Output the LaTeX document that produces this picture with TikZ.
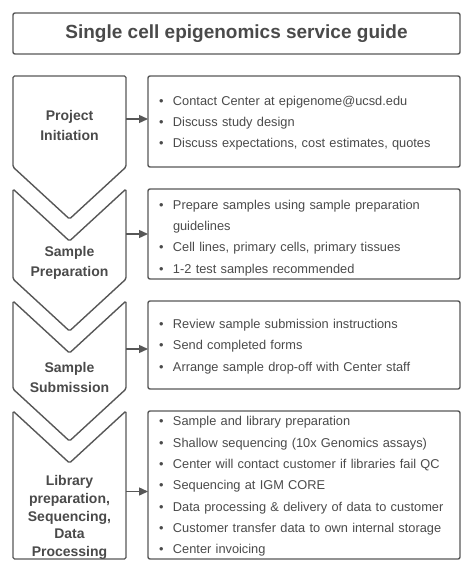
\documentclass[tikz,border=0pt]{standalone}
\usepackage{fontspec}
\setmainfont{Liberation Sans}
\usetikzlibrary{arrows.meta,positioning,calc}

\definecolor{linegray}{HTML}{575757}
\definecolor{textgray}{HTML}{4A4A4A}

\newcommand{\bitem}[1]{\par\hangindent=14pt\hangafter=1\noindent\makebox[14pt][l]{\textbullet}#1}
\newcommand{\bstart}{\vspace*{-9pt}}

\begin{document}
\begin{tikzpicture}[
    node distance=22pt,
    titlebox/.style={rectangle, rounded corners=2pt, draw=linegray, line width=1.4pt, outer sep=0pt,
                     text=textgray, minimum width=447pt, minimum height=41pt,
                     font=\fontsize{19}{23}\selectfont\bfseries},
    infobox/.style={rectangle, rounded corners=2pt, draw=linegray, line width=1.4pt, outer sep=0pt,
                    text=textgray, align=left, text width=290pt, inner xsep=11pt, inner ysep=0pt,
                    font=\fontsize{12.8}{21.3}\selectfont, execute at begin node=\bstart},
    chev/.style={draw=linegray, line width=1.4pt, rounded corners=1.5pt, line join=round},
    chevlabel/.style={align=center, text=textgray, font=\fontsize{14}{20}\selectfont\bfseries},
    flow/.style={-{Triangle[length=9pt,width=8pt]}, draw=linegray, line width=1.4pt}
]
\useasboundingbox (0,0) rectangle (474pt,-570pt);

\node[titlebox] (title) at (236.5pt,-33.5pt) {Single cell epigenomics service guide};

\node[infobox, minimum height=91pt, below=22pt of title.south east, anchor=north east] (b1)
    {\bitem{Contact Center at epigenome@ucsd.edu}
     \bitem{Discuss study design}
     \bitem{Discuss expectations, cost estimates, quotes}};
\node[infobox, minimum height=90pt, below=of b1, execute at begin node={\vspace*{5pt}}] (b2)
    {\bitem{Prepare samples using sample preparation guidelines}
     \bitem{Cell lines, primary cells, primary tissues}
     \bitem{1-2 test samples recommended}};
\node[infobox, minimum height=88pt, below=of b2] (b3)
    {\bitem{Review sample submission instructions}
     \bitem{Send completed forms}
     \bitem{Arrange sample drop-off with Center staff}};
\node[infobox, minimum height=148pt, below=of b3] (b4)
    {\bitem{Sample and library preparation}
     \bitem{Shallow sequencing (10x Genomics assays)}
     \bitem{Center will contact customer if libraries fail QC}
     \bitem{Sequencing at IGM CORE}
     \bitem{Data processing \& delivery of data to customer}
     \bitem{Customer transfer data to own internal storage}
     \bitem{Center invoicing}};

% chevrons
\draw[chev] (title.west |- b1.north) -- ($(b1.north west)+(-22pt,0)$) -- ($(b1.south west)+(-22pt,0)$)
    -- ($(b1.south west)+(-78.5pt,-52pt)$) -- (title.west |- b1.south) -- cycle;
\foreach \b in {b2,b3}
  \draw[chev] (title.west |- \b.north) -- ($(\b.north west)+(-78.5pt,-52pt)$) -- ($(\b.north west)+(-22pt,0)$)
      -- ($(\b.south west)+(-22pt,0)$) -- ($(\b.south west)+(-78.5pt,-52pt)$) -- (title.west |- \b.south) -- cycle;
\draw[chev] (title.west |- b4.north) -- ($(b4.north west)+(-78.5pt,-52pt)$) -- ($(b4.north west)+(-22pt,0)$)
    -- ($(b4.south west)+(-22pt,0)$) -- (title.west |- b4.south) -- cycle;

\node[chevlabel] (c1) at ($(b1.west)+(-78.5pt,-4pt)$) {Project\\Initiation};
\node[chevlabel] (c2) at ($(b2.west)+(-78.5pt,-29pt)$) {Sample\\Preparation};
\node[chevlabel] (c3) at ($(b3.west)+(-78.5pt,-32pt)$) {Sample\\Submission};
\node[chevlabel, font=\fontsize{14}{17.8}\selectfont\bfseries] (c4) at ($(b4.west)+(-78.5pt,-32.5pt)$)
    {Library\\preparation,\\Sequencing,\\Data\\Processing};

% arrows
\coordinate (a1) at ($(b1.west)+(-22pt,2.5pt)$);
\coordinate (a2) at ($(b2.west)+(-22pt,0pt)$);
\coordinate (a3) at ($(b3.west)+(-22pt,-4pt)$);
\coordinate (a4) at ($(b4.west)+(-22pt,-6.5pt)$);
\draw[flow] (a1) -- (a1 -| b1.west);
\draw[flow] (a2) -- (a2 -| b2.west);
\draw[flow] (a3) -- (a3 -| b3.west);
\draw[flow] (a4) -- (a4 -| b4.west);
\end{tikzpicture}
\end{document}
